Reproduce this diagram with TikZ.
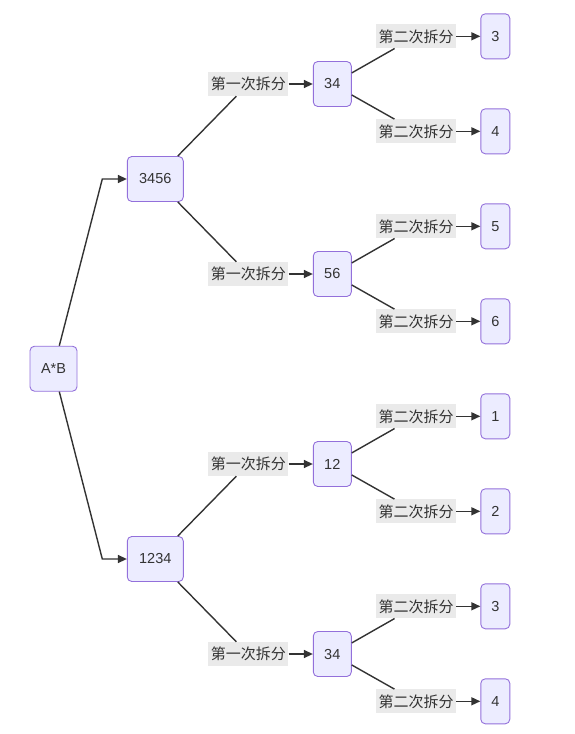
\documentclass[tikz,border=0pt]{standalone}
\usepackage{fontspec}
\setmainfont{Liberation Sans}
\newfontfamily\cjk{Noto Sans CJK SC}
\usetikzlibrary{arrows.meta}
\definecolor{nodefill}{HTML}{ECECFF}
\definecolor{nodeline}{HTML}{9370DB}
\definecolor{edgecol}{HTML}{333333}
\definecolor{labfill}{HTML}{EAEAEA}
\tikzset{
  box/.style={draw=nodeline, fill=nodefill, line width=0.9pt, rounded corners=4.5pt,
    minimum height=45pt, inner sep=0pt, text=edgecol, font=\fontsize{14.5}{16}\selectfont},
  w1/.style={box, minimum width=29pt},
  w2/.style={box, minimum width=38pt},
  w4/.style={box, minimum width=56pt},
  lab/.style={fill=labfill, inner sep=0pt, minimum width=80pt, minimum height=24pt,
    text=edgecol, font=\cjk\fontsize{15}{16}\selectfont},
  edge/.style={draw=edgecol, line width=1.4pt},
  arr/.style={edge, -{Triangle[length=9pt,width=8pt]}},
}
\begin{document}
\begin{tikzpicture}[x=1pt,y=-1pt]
\useasboundingbox (0,0) rectangle (574,734);
% root
\node[box, minimum width=47pt] (ab) at (53.5,368.7) {A*B};
\node[w4] (a) at (155.3,179) {3456};
\node[w4] (b) at (155.3,559) {1234};
% level 2
\node[w2] (a1) at (332.3,84) {34};
\node[w2] (a2) at (332.3,274) {56};
\node[w2] (b1) at (332.3,464) {12};
\node[w2] (b2) at (332.3,654) {34};
% leaves
\node[w1] (la) at (495.3,36.3) {3};
\node[w1] (lb) at (495.3,131.3) {4};
\node[w1] (lc) at (495.3,226.3) {5};
\node[w1] (ld) at (495.3,321.3) {6};
\node[w1] (le) at (495.3,416.3) {1};
\node[w1] (lf) at (495.3,511.3) {2};
\node[w1] (lg) at (495.3,606.3) {3};
\node[w1] (lh) at (495.3,701.3) {4};
% labels level 1
\node[lab] (ta1) at (248.3,84) {第一次拆分};
\node[lab] (ta2) at (248.3,274) {第一次拆分};
\node[lab] (tb1) at (248.3,464) {第一次拆分};
\node[lab] (tb2) at (248.3,654) {第一次拆分};
% labels level 2
\node[lab] (sa) at (416,36.3) {第二次拆分};
\node[lab] (sb) at (416,131.3) {第二次拆分};
\node[lab] (sc) at (416,226.3) {第二次拆分};
\node[lab] (sd) at (416,321.3) {第二次拆分};
\node[lab] (se) at (416,416.3) {第二次拆分};
\node[lab] (sf) at (416,511.3) {第二次拆分};
\node[lab] (sg) at (416,606.3) {第二次拆分};
\node[lab] (sh) at (416,701.3) {第二次拆分};
% root edges
\coordinate (ka) at (102.3,179);
\coordinate (kb) at (102.3,559);
\draw[arr] ([xshift=5.8pt]ab.north) -- (ka) -- (a.west);
\draw[arr] ([xshift=5.8pt]ab.south) -- (kb) -- (b.west);
% level 1 edges
\foreach \p/\t/\c in {a/ta1/a1, a/ta2/a2, b/tb1/b1, b/tb2/b2}{
  \draw[edge] (\p) -- (\t);
  \draw[arr] (\t) -- (\c);
}
% level 2 edges
\foreach \p/\t/\c in {a1/sa/la, a1/sb/lb, a2/sc/lc, a2/sd/ld, b1/se/le, b1/sf/lf, b2/sg/lg, b2/sh/lh}{
  \draw[edge] (\p) -- (\t);
  \draw[arr] (\t) -- (\c);
}
\end{tikzpicture}
\end{document}
